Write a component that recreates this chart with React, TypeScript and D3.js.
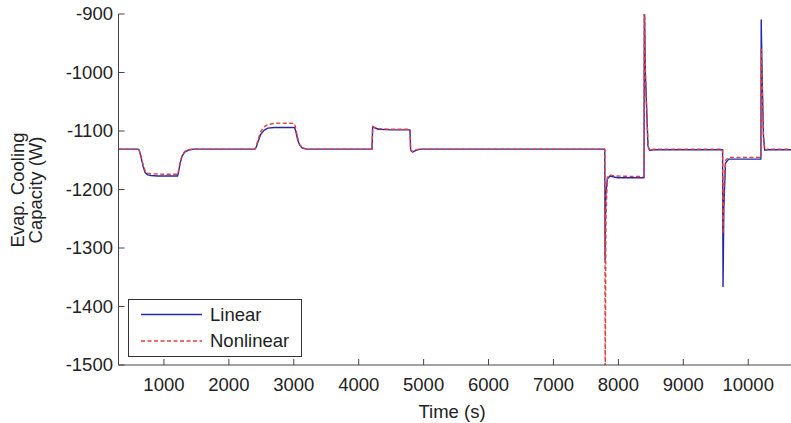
import React from "react";
import * as d3 from "d3";

// Time axis (s) and evaporator cooling capacity (W) for the two models
const linearTime = [
  300, 600, 620, 650, 680, 710, 750, 800, 900, 1000, 1100, 1210, 1225, 1250, 1280, 1320, 1370, 1450,
  2400, 2420, 2450, 2490, 2540, 2600, 2700, 2800, 3010, 3030, 3060, 3090, 3130, 3200,
  4205, 4215, 4240, 4300, 4500, 4790, 4800, 4830, 4880, 4950,
  7790, 7795, 7805, 7830, 7870, 7950, 8000, 8395,
  8400, 8415, 8435, 8455, 8480, 8550,
  9605, 9612, 9625, 9650, 9700, 9800, 10195,
  10200, 10215, 10235, 10255, 10300, 10700,
];
const linearValue = [
  -1131, -1131, -1133, -1146, -1161, -1171, -1175, -1176, -1177, -1177, -1177, -1177, -1170, -1155, -1143, -1136, -1133, -1131,
  -1131, -1128, -1118, -1106, -1099, -1095, -1094, -1094, -1094, -1100, -1115, -1124, -1129, -1131,
  -1131, -1093, -1094, -1097, -1098, -1098, -1133, -1136, -1133, -1131,
  -1131, -1320, -1210, -1182, -1177, -1179, -1180, -1180,
  -870, -1000, -1060, -1125, -1133, -1132,
  -1132, -1366, -1230, -1155, -1148, -1148, -1148,
  -910, -1010, -1110, -1133, -1132, -1132,
];

const nonlinearTime = [
  300, 600, 620, 650, 680, 710, 750, 800, 1000, 1210, 1225, 1250, 1280, 1320, 1370, 1450,
  2400, 2420, 2450, 2490, 2540, 2600, 2700, 2800, 3010, 3030, 3060, 3090, 3130, 3200,
  4205, 4215, 4240, 4300, 4500, 4790, 4800, 4830, 4880, 4950,
  7790, 7797, 7808, 7830, 7870, 7950, 8395,
  8400, 8418, 8438, 8458, 8480, 8550,
  9605, 9612, 9625, 9650, 9700, 10195,
  10200, 10215, 10235, 10255, 10300, 10700,
];
const nonlinearValue = [
  -1131, -1131, -1133, -1144, -1158, -1168, -1172, -1173, -1174, -1174, -1168, -1153, -1142, -1135, -1132, -1131,
  -1131, -1127, -1115, -1101, -1093, -1089, -1087, -1086.5, -1087, -1095, -1112, -1123, -1129, -1131,
  -1131, -1092, -1094, -1096, -1097, -1097, -1133, -1135, -1132, -1131,
  -1131, -1540, -1250, -1180, -1175, -1177, -1178,
  -870, -1010, -1070, -1127, -1133, -1131,
  -1131, -1275, -1200, -1150, -1145, -1145,
  -960, -1020, -1110, -1133, -1131, -1131,
];

const xTicks = [1000, 2000, 3000, 4000, 5000, 6000, 7000, 8000, 9000, 10000];
const yTicks = [-900, -1000, -1100, -1200, -1300, -1400, -1500];
const legendLabels = ["Linear", "Nonlinear"];

const W = 791;
const H = 423;
const left = 118.5;
const top = 14;
const bottom = 365;

export default function App() {
  const x = d3.scaleLinear().domain([300, 10700]).range([left, left + 10400 * 0.06492]);
  const y = d3.scaleLinear().domain([-1500, -900]).range([bottom, top]);

  const line = d3
    .line<[number, number]>()
    .x((d) => x(d[0]))
    .y((d) => y(d[1]));

  const linearPts = linearTime.map((t, i) => [t, linearValue[i]] as [number, number]);
  const nonlinearPts = nonlinearTime.map((t, i) => [t, nonlinearValue[i]] as [number, number]);

  const blue = "#2626a8";
  const red = "#e2403c";
  const axisColor = "#444";
  const font = "'Liberation Sans', Arial, sans-serif";

  return (
    <div style={{ position: "fixed", left: 0, top: 0 }}>
      <svg width={W} height={H} style={{ display: "block", background: "#fff" }} fontFamily={font}>
        <defs>
          <clipPath id="plotArea">
            <rect x={left} y={top} width={W - left} height={bottom - top} />
          </clipPath>
        </defs>

        <g clipPath="url(#plotArea)" fill="none" strokeLinejoin="round">
          <path d={line(linearPts) ?? ""} stroke={blue} strokeWidth={1.4} />
          <path d={line(nonlinearPts) ?? ""} stroke={red} strokeWidth={1.4} strokeDasharray="4,2.5" />
        </g>

        {/* axes */}
        <line x1={left} x2={left} y1={top} y2={bottom} stroke={axisColor} strokeWidth={1} />
        <line x1={left} x2={W} y1={bottom} y2={bottom} stroke={axisColor} strokeWidth={1} />

        {yTicks.map((v) => (
          <g key={v}>
            <line x1={left} x2={left + 6} y1={y(v)} y2={y(v)} stroke={axisColor} />
            <text x={113} y={y(v)} dy="0.35em" textAnchor="end" fontSize={18.5} fill="#222">
              {v}
            </text>
          </g>
        ))}

        {xTicks.map((v) => (
          <g key={v}>
            <line x1={x(v)} x2={x(v)} y1={bottom} y2={bottom - 6} stroke={axisColor} />
            <text x={x(v)} y={391} textAnchor="middle" fontSize={18.5} fill="#222">
              {v}
            </text>
          </g>
        ))}

        <text x={452} y={418} textAnchor="middle" fontSize={18.5} fill="#222">
          Time (s)
        </text>

        <g transform="translate(24,190) rotate(-90)">
          <text x={0} y={0} textAnchor="middle" fontSize={18.5} fill="#222">
            Evap. Cooling
          </text>
          <text x={0} y={18} textAnchor="middle" fontSize={18.5} fill="#222">
            Capacity (W)
          </text>
        </g>

        {/* legend */}
        <rect x={128.5} y={299.5} width={173} height={57} fill="#fff" stroke="#333" strokeWidth={1} />
        <line x1={141} x2={202} y1={314.5} y2={314.5} stroke={blue} strokeWidth={1.3} />
        <line x1={141} x2={202} y1={341} y2={341} stroke={red} strokeWidth={1.3} strokeDasharray="4,2.5" />
        <text x={210} y={314.5} dy="0.35em" fontSize={18.5} fill="#222">
          {legendLabels[0]}
        </text>
        <text x={210} y={341} dy="0.35em" fontSize={18.5} fill="#222">
          {legendLabels[1]}
        </text>
      </svg>
    </div>
  );
}
